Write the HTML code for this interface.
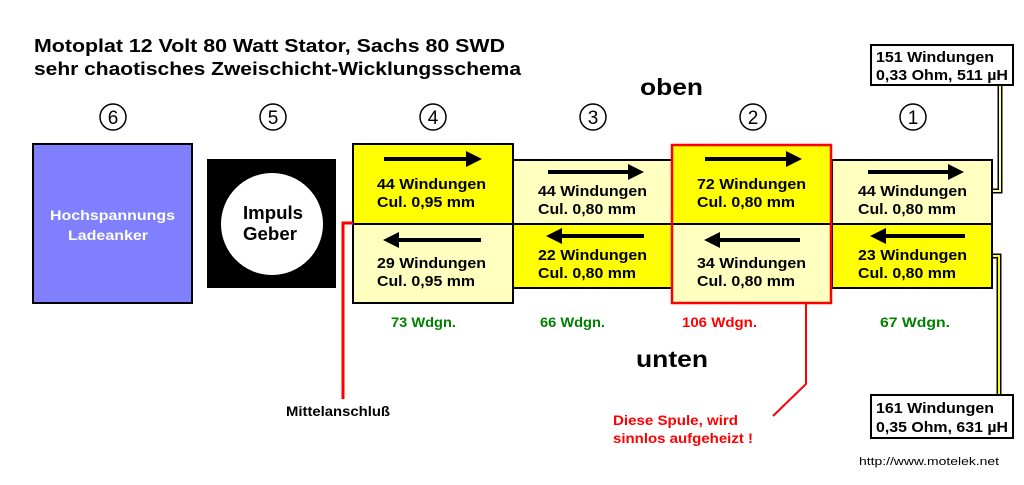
<!DOCTYPE html>
<html><head><meta charset="utf-8"><style>
body{margin:0;background:#fff;width:1024px;height:480px;overflow:hidden}
text{font-family:"Liberation Sans",Arial,sans-serif;font-weight:bold}
</style></head><body>
<svg width="1024" height="480" xmlns="http://www.w3.org/2000/svg">
<defs><marker id="ar" markerWidth="4" markerHeight="4" refX="2" refY="2" orient="auto"><path d="M0,0 L4,2 L0,4z" fill="#000"/></marker></defs>
<text x="34" y="52" font-size="18" textLength="471" lengthAdjust="spacingAndGlyphs">Motoplat 12 Volt 80 Watt Stator,  Sachs 80 SWD</text>
<text x="34" y="75" font-size="18" textLength="487" lengthAdjust="spacingAndGlyphs">sehr chaotisches Zweischicht-Wicklungsschema</text>
<text x="640" y="95" font-size="23" textLength="63" lengthAdjust="spacingAndGlyphs">oben</text>
<text x="636" y="367" font-size="23" textLength="72" lengthAdjust="spacingAndGlyphs">unten</text>
<g fill="none" stroke="#000" stroke-width="1.5">
<circle cx="113" cy="117" r="13"/><circle cx="273" cy="117" r="13"/><circle cx="433" cy="117" r="13"/>
<circle cx="593" cy="117" r="13"/><circle cx="753" cy="117" r="13"/><circle cx="913" cy="117" r="13"/>
</g>
<g font-size="19" text-anchor="middle">
<text x="113" y="124" style="font-weight:normal">6</text>
<text x="273" y="124" style="font-weight:normal">5</text>
<text x="433" y="124" style="font-weight:normal">4</text>
<text x="593" y="124" style="font-weight:normal">3</text>
<text x="753" y="124" style="font-weight:normal">2</text>
<text x="913" y="124" style="font-weight:normal">1</text>
</g>
<rect x="33" y="144" width="159" height="159" fill="#8080ff" stroke="#000" stroke-width="2"/>
<text x="50" y="220" font-size="14" fill="#fff" textLength="125" lengthAdjust="spacingAndGlyphs">Hochspannungs</text>
<text x="68" y="240" font-size="14" fill="#fff" textLength="80" lengthAdjust="spacingAndGlyphs">Ladeanker</text>
<rect x="207" y="159" width="129" height="129" fill="#000"/>
<circle cx="272" cy="224" r="51" fill="#fff"/>
<text x="243" y="219" font-size="18" textLength="60" lengthAdjust="spacingAndGlyphs">Impuls</text>
<text x="243" y="240" font-size="18" textLength="54" lengthAdjust="spacingAndGlyphs">Geber</text>
<rect x="513" y="160" width="159" height="64" fill="#ffffc0" stroke="#000" stroke-width="2"/>
<rect x="513" y="224" width="159" height="64" fill="#ffff00" stroke="#000" stroke-width="2"/>
<rect x="832" y="160" width="160" height="64" fill="#ffffc0" stroke="#000" stroke-width="2"/>
<rect x="832" y="224" width="160" height="64" fill="#ffff00" stroke="#000" stroke-width="2"/>
<rect x="353" y="144" width="160" height="80" fill="#ffff00" stroke="#000" stroke-width="2"/>
<rect x="353" y="224" width="160" height="79" fill="#ffffc0" stroke="#000" stroke-width="2"/>
<rect x="672" y="145" width="159" height="79" fill="#ffff00"/>
<rect x="672" y="224" width="159" height="79" fill="#ffffc0"/>
<line x1="672" y1="224" x2="831" y2="224" stroke="#000" stroke-width="2"/>
<rect x="672" y="145" width="159" height="158" fill="none" stroke="#f00" stroke-width="2.5"/>
<g stroke="#000" stroke-width="4" marker-end="url(#ar)">
<line x1="384" y1="159" x2="474" y2="159"/>
<line x1="548" y1="172" x2="636" y2="172"/>
<line x1="705" y1="159" x2="794" y2="159"/>
<line x1="868" y1="172" x2="956" y2="172"/>
<line x1="481" y1="240" x2="391" y2="240"/>
<line x1="644" y1="236" x2="554" y2="236"/>
<line x1="800" y1="240" x2="712" y2="240"/>
<line x1="965" y1="236" x2="878" y2="236"/>
</g>
<g font-size="15">
<text x="377" y="189" textLength="109" lengthAdjust="spacingAndGlyphs">44 Windungen</text><text x="377" y="207" textLength="98" lengthAdjust="spacingAndGlyphs">Cul. 0,95 mm</text>
<text x="377" y="268" textLength="109" lengthAdjust="spacingAndGlyphs">29 Windungen</text><text x="377" y="286" textLength="98" lengthAdjust="spacingAndGlyphs">Cul. 0,95 mm</text>
<text x="538" y="196" textLength="109" lengthAdjust="spacingAndGlyphs">44 Windungen</text><text x="538" y="214" textLength="98" lengthAdjust="spacingAndGlyphs">Cul. 0,80 mm</text>
<text x="538" y="260" textLength="109" lengthAdjust="spacingAndGlyphs">22 Windungen</text><text x="538" y="278" textLength="98" lengthAdjust="spacingAndGlyphs">Cul. 0,80 mm</text>
<text x="697" y="189" textLength="109" lengthAdjust="spacingAndGlyphs">72 Windungen</text><text x="697" y="207" textLength="98" lengthAdjust="spacingAndGlyphs">Cul. 0,80 mm</text>
<text x="697" y="268" textLength="109" lengthAdjust="spacingAndGlyphs">34 Windungen</text><text x="697" y="286" textLength="98" lengthAdjust="spacingAndGlyphs">Cul. 0,80 mm</text>
<text x="858" y="196" textLength="109" lengthAdjust="spacingAndGlyphs">44 Windungen</text><text x="858" y="214" textLength="98" lengthAdjust="spacingAndGlyphs">Cul. 0,80 mm</text>
<text x="858" y="260" textLength="109" lengthAdjust="spacingAndGlyphs">23 Windungen</text><text x="858" y="278" textLength="98" lengthAdjust="spacingAndGlyphs">Cul. 0,80 mm</text>
</g>
<g font-size="14">
<text x="391" y="327" fill="#008000" textLength="65" lengthAdjust="spacingAndGlyphs">73 Wdgn.</text>
<text x="540" y="327" fill="#008000" textLength="65" lengthAdjust="spacingAndGlyphs">66 Wdgn.</text>
<text x="682" y="327" fill="#f00" textLength="75" lengthAdjust="spacingAndGlyphs">106 Wdgn.</text>
<text x="880" y="327" fill="#008000" textLength="70" lengthAdjust="spacingAndGlyphs">67 Wdgn.</text>
</g>
<polyline points="353,223 343,223 343,399" fill="none" stroke="#f00" stroke-width="3"/>
<text x="286" y="416" font-size="14" textLength="104" lengthAdjust="spacingAndGlyphs">Mittelanschluß</text>
<polyline points="806,303 806,384 773,416" fill="none" stroke="#f00" stroke-width="2"/>
<text x="613" y="425" font-size="14" fill="#f00" textLength="125" lengthAdjust="spacingAndGlyphs">Diese Spule, wird</text>
<text x="613" y="443" font-size="14" fill="#f00" textLength="140" lengthAdjust="spacingAndGlyphs">sinnlos aufgeheizt !</text>
<polyline points="1000,86 1000,191 993,191" fill="none" stroke="#000" stroke-width="5"/>
<polyline points="1000,86 1000,191 993,191" fill="none" stroke="#ffffa0" stroke-width="2"/>
<polyline points="993,256 999,256 999,394" fill="none" stroke="#000" stroke-width="5"/>
<polyline points="993,256 999,256 999,394" fill="none" stroke="#ffff00" stroke-width="2"/>
<rect x="871" y="45" width="142" height="40" fill="#fff" stroke="#000" stroke-width="2"/>
<text x="876" y="62" font-size="15" textLength="118" lengthAdjust="spacingAndGlyphs">151 Windungen</text>
<text x="876" y="80" font-size="15" textLength="132" lengthAdjust="spacingAndGlyphs">0,33 Ohm, 511 µH</text>
<rect x="871" y="395" width="142" height="43" fill="#fff" stroke="#000" stroke-width="2"/>
<text x="876" y="413" font-size="15" textLength="118" lengthAdjust="spacingAndGlyphs">161 Windungen</text>
<text x="876" y="432" font-size="15" textLength="132" lengthAdjust="spacingAndGlyphs">0,35 Ohm, 631 µH</text>
<text x="859" y="465" font-size="11" style="font-weight:normal" textLength="140" lengthAdjust="spacingAndGlyphs">http://www.motelek.net</text>
</svg>
</body></html>
